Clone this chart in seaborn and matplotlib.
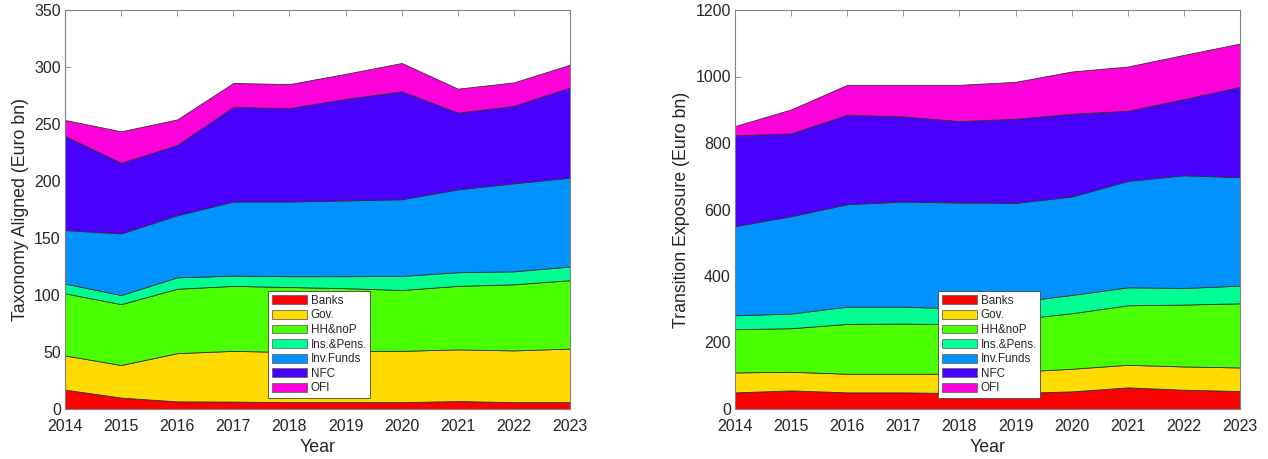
import matplotlib
matplotlib.use("Agg")
import matplotlib.pyplot as plt
import seaborn as sns
import numpy as np
import colorsys

sns.set_style("ticks")
plt.rcParams['font.family'] = ['Liberation Sans', 'DejaVu Sans']

years = [2014, 2015, 2016, 2017, 2018, 2019, 2020, 2021, 2022, 2023]
sectors = ["Banks", "Gov.", "HH&noP", "Ins.&Pens.", "Inv.Funds", "NFC", "OFI"]

# Left panel: Taxonomy Aligned (Euro bn), per sector
tax_banks = [17, 10, 6.7, 6.5, 6, 6, 6, 7, 6, 6]
tax_gov = [30, 28.6, 42.3, 44.5, 44, 45, 45, 45.3, 45.4, 47]
tax_hh = [54.5, 53.4, 56.5, 57, 57, 55, 53.4, 55.7, 58, 60]
tax_ins = [8.5, 8, 10, 9, 9.5, 10.5, 12.3, 12, 11.4, 12]
tax_inv = [47, 54, 54.5, 65, 65.5, 66.5, 67.3, 72.7, 77.2, 78]
tax_nfc = [82.5, 62, 61.6, 83, 82, 89, 94.7, 67.3, 68, 79]
tax_ofi = [14, 27.6, 22.4, 21, 21, 22, 24.8, 21, 20.5, 20]

# Right panel: Transition Exposure (Euro bn), per sector
tr_banks = [50, 56, 50, 50, 48, 48, 53, 65, 58, 54]
tr_gov = [60, 56, 56, 56, 58, 64, 68, 68, 70, 71]
tr_hh = [130, 131, 150, 151, 149, 158, 167, 179, 186, 193]
tr_ins = [42, 44, 52, 51, 47, 52, 55, 54, 50, 53]
tr_inv = [268, 293, 308, 316, 319, 298, 296, 320, 339, 326]
tr_nfc = [273, 249, 269, 256, 245, 253, 249, 211, 229, 272]
tr_ofi = [28, 72, 90, 95, 109, 111, 127, 133, 133, 130]

# MATLAB-like hsv(7) colormap
colors = [colorsys.hsv_to_rgb(i / 7, 1, 1) for i in range(7)]

fig = plt.figure(figsize=(12.68, 4.59), dpi=100)
W, H = 1268, 459
ax1 = fig.add_axes([65 / W, 50 / H, 505 / W, 399 / H])
ax2 = fig.add_axes([735 / W, 50 / H, 505 / W, 399 / H])

panels = [
    (ax1, [tax_banks, tax_gov, tax_hh, tax_ins, tax_inv, tax_nfc, tax_ofi],
     "Taxonomy Aligned (Euro bn)", 350, 50),
    (ax2, [tr_banks, tr_gov, tr_hh, tr_ins, tr_inv, tr_nfc, tr_ofi],
     "Transition Exposure (Euro bn)", 1200, 200),
]

axcol = "#808080"
for ax, series, ylabel, ymax, ystep in panels:
    ax.stackplot(years, *series, labels=sectors, colors=colors,
                 edgecolor="#333333", linewidth=0.6)
    ax.set_xlim(2014, 2023)
    ax.set_ylim(0, ymax)
    ax.set_xticks(years)
    ax.set_yticks(np.arange(0, ymax + 1, ystep))
    ax.set_xlabel("Year", fontsize=12.8, color="#262626", labelpad=4)
    ax.set_ylabel(ylabel, fontsize=12.8, color="#262626", labelpad=4)
    ax.tick_params(direction="in", length=4, width=0.6, colors=axcol,
                   labelcolor="#262626", labelsize=11.5, top=True, right=True, pad=3)
    ax.tick_params(axis="x", pad=7)
    for sp in ax.spines.values():
        sp.set_visible(True)
        sp.set_color(axcol)
        sp.set_linewidth(0.8)
    ax.set_facecolor("white")
    leg = ax.legend(loc="lower left", bbox_to_anchor=(0.402, 0.028),
                    fontsize=8.4, frameon=True, fancybox=False,
                    edgecolor="#444444", framealpha=1, borderpad=0.3,
                    labelspacing=0.22, handlelength=3.0, handleheight=0.8,
                    handletextpad=0.35, borderaxespad=0)
    leg.get_frame().set_linewidth(0.6)
    for h in leg.legend_handles:
        h.set_edgecolor("#666666")
        h.set_linewidth(0.6)

fig.savefig("out.png", dpi=100, facecolor="white")
